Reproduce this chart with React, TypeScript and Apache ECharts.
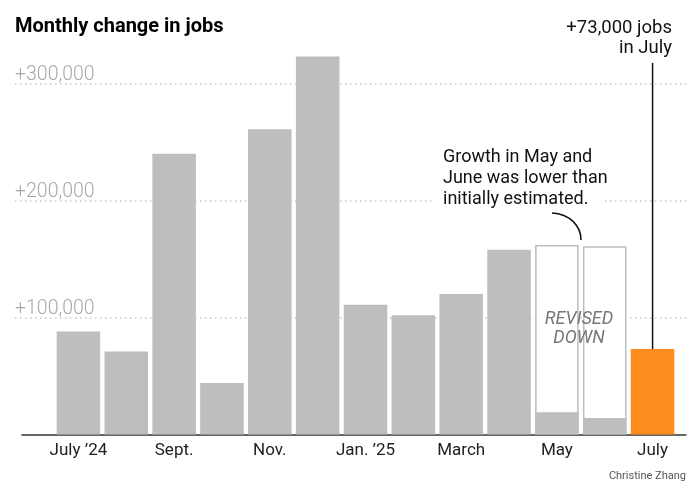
import React, { useEffect, useRef } from "react";
import * as echarts from "echarts";

const categories = ["July ’24", "Aug.", "Sept.", "Oct.", "Nov.", "Dec.", "Jan. ’25", "Feb.", "March", "April", "May", "June", "July"];
const jobs = [88000, 71000, 240000, 44000, 261000, 323000, 111000, 102000, 120000, 158000, 19000, 14000, 73000];
const earlierEstimate: (number | null)[] = [null, null, null, null, null, null, null, null, null, null, 162000, 161000, null];
const yTicks = [100000, 200000, 300000];

const FONT = "Roboto, 'Liberation Sans', sans-serif";
const GRAY = "#bebebe";
const ORANGE = "#fd8b1e";

export default function App() {
  const ref = useRef<HTMLDivElement>(null);
  useEffect(() => {
    const chart = echarts.init(ref.current!, null, { renderer: "svg" });
    const option: any = {
      animation: false,
      grid: [
        { left: 15, right: 2, top: 83.5, bottom: 177.5 },
        { left: 54.5, right: 13.5, top: 25, bottom: 60.5 },
        { left: 22, right: 4, top: 25, bottom: 60.5 },
      ],
      xAxis: [
        { gridIndex: 0, type: "value", show: false },
        {
          gridIndex: 1,
          type: "category",
          data: categories,
          axisLine: { show: false },
          axisTick: { show: false },
          axisLabel: { interval: 1, color: "#222", fontSize: 17, fontFamily: FONT, margin: 6 },
        },
        {
          gridIndex: 2,
          type: "category",
          data: [""],
          axisLine: { show: true, onZero: false, lineStyle: { color: "#333", width: 1.5 } },
          axisTick: { show: false },
          axisLabel: { show: false },
        },
      ],
      yAxis: [
        {
          gridIndex: 0,
          type: "value",
          min: yTicks[0],
          max: yTicks[yTicks.length - 1],
          interval: 100000,
          axisLine: { show: false },
          axisTick: { show: false },
          splitLine: { show: true, lineStyle: { color: "#c8c8c8", width: 1.5, type: [1.5, 3.5] } },
          axisLabel: {
            inside: true,
            margin: 0,
            align: "left",
            verticalAlign: "bottom",
            padding: [0, 0, 0, 0],
            color: "#a8a8a8",
            fontSize: 19.5,
            fontWeight: 300,
            fontFamily: FONT,
            formatter: (v: number) => "+" + v.toLocaleString("en-US"),
          },
        },
        { gridIndex: 1, type: "value", min: 0, max: 350000, show: false, splitLine: { show: false } },
        { gridIndex: 2, type: "value", min: 0, max: 1, show: false, splitLine: { show: false } },
      ],
      series: [
        {
          type: "bar",
          xAxisIndex: 1,
          yAxisIndex: 1,
          data: earlierEstimate.map((v) => (v == null ? "-" : v)),
          barCategoryGap: "9%",
          barGap: "-100%",
          itemStyle: { color: "#fff", borderColor: GRAY, borderWidth: 1.5 },
          silent: true,
        },
        {
          type: "bar",
          xAxisIndex: 1,
          yAxisIndex: 1,
          data: jobs.map((v, i) => (i === jobs.length - 1 ? { value: v, itemStyle: { color: ORANGE } } : v)),
          barCategoryGap: "9%",
          barGap: "-100%",
          itemStyle: { color: GRAY },
          silent: true,
        },
      ],
    };
    chart.setOption(option);
    const last = jobs.length - 1;
    const p = chart.convertToPixel({ seriesIndex: 1 }, [last, jobs[last]]) as number[];
    const txt = (x: number, y: number, text: string, extra: any = {}) => ({
      type: "text",
      z: 110,
      style: {
        x,
        y,
        text,
        fill: "#121212",
        fontSize: 18,
        fontFamily: FONT,
        textAlign: "left",
        textVerticalAlign: "middle",
        ...extra,
      },
    });
    chart.setOption({
      graphic: [
        txt(15, 25, "Monthly change in jobs", { fontSize: 20, fontWeight: "bold", fill: "#000" }),
        { type: "rect", z: 100, shape: { x: 432, y: 142, width: 172, height: 66 }, style: { fill: "#fff" } },
        txt(443, 155, "Growth in May and"),
        txt(443, 176.5, "June was lower than"),
        txt(443, 197.5, "initially estimated."),
        {
          type: "bezierCurve",
          z: 110,
          shape: { x1: 552, y1: 213, cpx1: 570, cpy1: 214, cpx2: 581, cpy2: 226, x2: 581, y2: 240 },
          style: { stroke: "#111", lineWidth: 1.5, fill: "none" },
        },
        txt(579, 317, "REVISED", { textAlign: "center", fill: "#777", fontStyle: "italic" }),
        txt(579, 336, "DOWN", { textAlign: "center", fill: "#777", fontStyle: "italic" }),
        txt(672, 27, "+73,000 jobs", { textAlign: "right", fontSize: 18.5 }),
        txt(672, 47, "in July", { textAlign: "right", fontSize: 18.5 }),
        {
          type: "line",
          z: 110,
          shape: { x1: p[0], y1: 63, x2: p[0], y2: p[1] },
          style: { stroke: "#111", lineWidth: 1.5 },
        },
        txt(686, 475, "Christine Zhang", { textAlign: "right", fontSize: 11, fill: "#555" }),
      ],
    });
    return () => chart.dispose();
  }, []);
  return <div ref={ref} style={{ position: "fixed", left: 0, top: 0, width: 690, height: 495 }} />;
}
